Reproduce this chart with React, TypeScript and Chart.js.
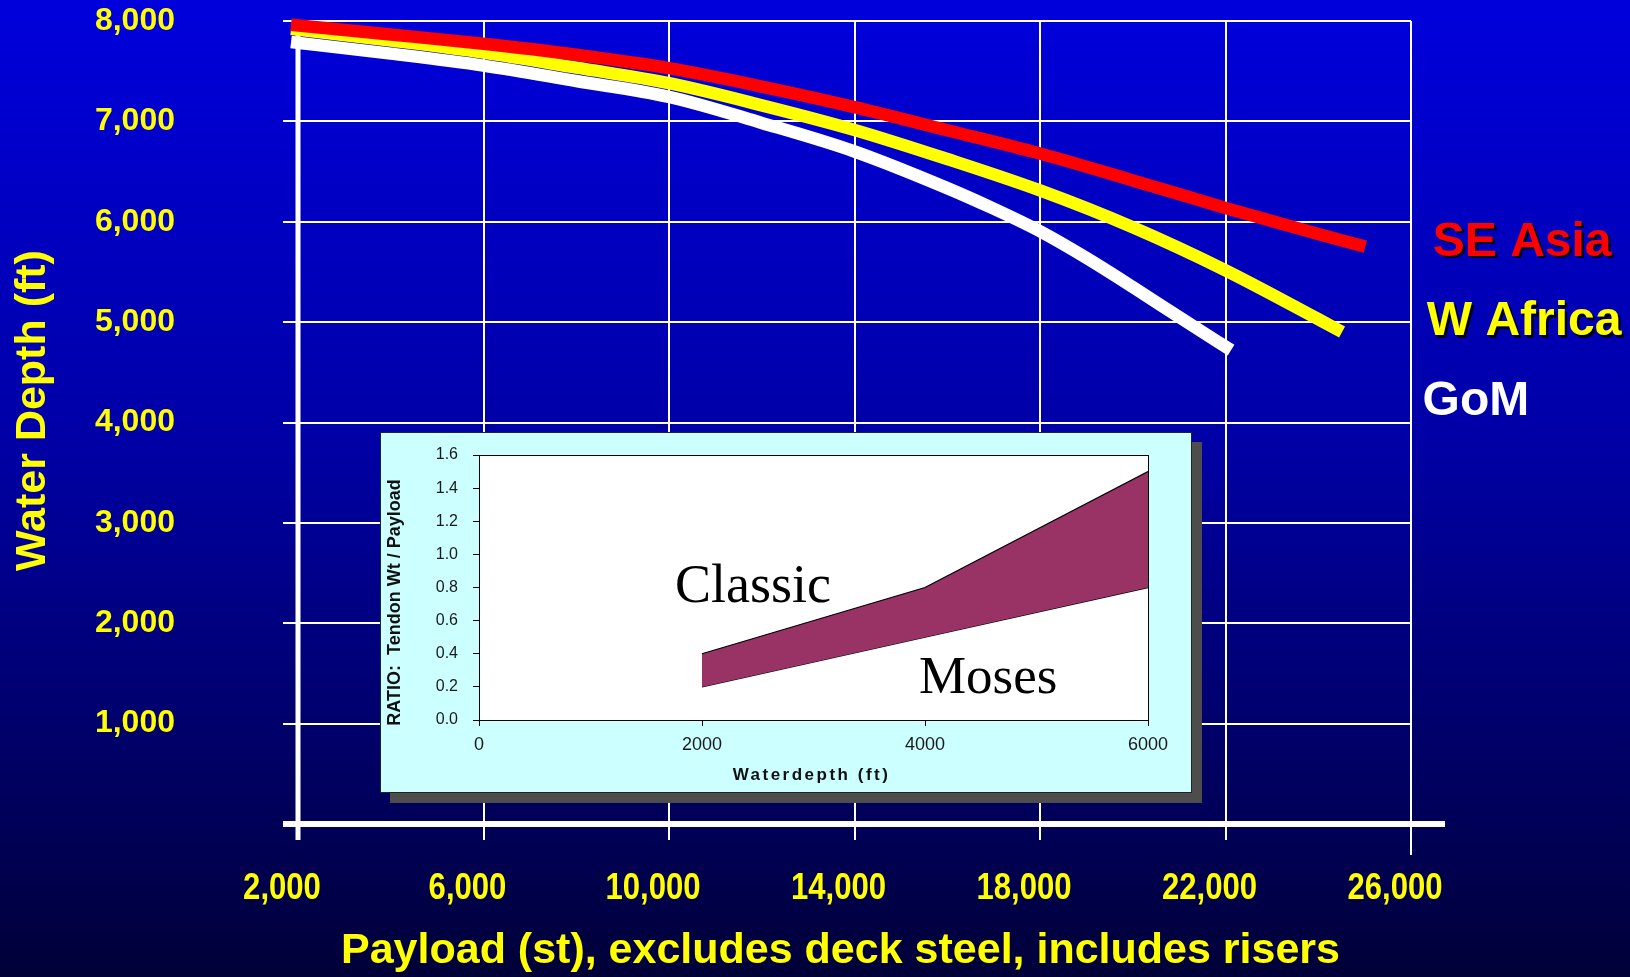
import React, { useEffect, useRef } from "react";
import { Chart, registerables } from "chart.js";

Chart.register(...registerables);

// ---------------- main chart data ----------------
const payloadTicks = [2000, 6000, 10000, 14000, 18000, 22000, 26000];
const depthTicks = [0, 1000, 2000, 3000, 4000, 5000, 6000, 7000, 8000];
const xAxisTitle = "Payload (st), excludes deck steel, includes risers";
const yAxisTitle = "Water Depth (ft)";

const regionNames = ["SE Asia", "W Africa", "GoM"];

const seAsiaPayload = [1850, 4000, 6000, 8000, 10000, 12000, 14000, 16000, 18000, 20000, 22000, 24000, 25015];
const seAsiaDepth = [7963, 7866, 7773, 7664, 7530, 7347, 7142, 6912, 6680, 6412, 6138, 5878, 5752];

const wAfricaPayload = [1850, 4000, 6000, 8000, 10000, 12000, 14000, 16000, 18000, 20000, 22000, 24000, 24514];
const wAfricaDepth = [7922, 7805, 7685, 7535, 7380, 7160, 6915, 6625, 6312, 5945, 5516, 5030, 4902];

const gomPayload = [1850, 4000, 6000, 8000, 10000, 12000, 14000, 16000, 17000, 18000, 19000, 20000, 21000, 22120];
const gomDepth = [7790, 7675, 7556, 7402, 7244, 6985, 6700, 6335, 6130, 5905, 5640, 5350, 5050, 4721];

// ---------------- inset chart data ----------------
const insetDepthTicks = [0, 2000, 4000, 6000];
const insetRatioTicks = [0, 0.2, 0.4, 0.6, 0.8, 1.0, 1.2, 1.4, 1.6];
const bandDepth = [2000, 4000, 6000];
const classicRatio = [0.4, 0.8, 1.5];
const mosesRatio = [0.2, 0.5, 0.8];

// ---------------- styles ----------------
const SANS = '"Liberation Sans", Arial, Helvetica, sans-serif';
const SERIF = '"Liberation Serif", "Times New Roman", Times, serif';
const YELLOW = "#ffff00";
const regionColors = ["#ff0000", "#ffff00", "#ffffff"];

const fmt = (v: number) => Number(v).toLocaleString("en-US");
const pts = (xs: number[], ys: number[]) => xs.map((x, i) => ({ x, y: ys[i] }));

const fixBox = (w: number | null, h: number | null) => (s: any) => {
  if (w !== null) s.width = w;
  if (h !== null) s.height = h;
  s.paddingTop = 0;
  s.paddingBottom = 0;
  s.paddingLeft = 0;
  s.paddingRight = 0;
};

const mainDecor = {
  id: "mainDecor",
  beforeDraw(chart: any) {
    const { ctx, width, height } = chart;
    const g = ctx.createLinearGradient(0, 0, 0, height);
    g.addColorStop(0, "#0000dc");
    g.addColorStop(0.45, "#0000a6");
    g.addColorStop(1, "#000038");
    ctx.save();
    ctx.fillStyle = g;
    ctx.fillRect(0, 0, width, height);
    ctx.restore();
  },
  beforeDatasetsDraw(chart: any) {
    const { ctx, chartArea } = chart;
    const ys = chart.scales.y;
    ctx.save();
    ctx.strokeStyle = "#ffffff";
    ctx.lineWidth = 5;
    ctx.beginPath();
    ctx.moveTo(chartArea.left, ys.getPixelForValue(8000));
    ctx.lineTo(chartArea.left, chartArea.bottom + 16);
    ctx.stroke();
    ctx.lineWidth = 6;
    ctx.beginPath();
    ctx.moveTo(chartArea.left - 15, chartArea.bottom);
    ctx.lineTo(chartArea.right + 34, chartArea.bottom);
    ctx.stroke();
    ctx.lineWidth = 2;
    ctx.beginPath();
    ctx.moveTo(chartArea.right, chartArea.bottom);
    ctx.lineTo(chartArea.right, chartArea.bottom + 31);
    ctx.stroke();
    ctx.restore();
  },
  afterDraw(chart: any) {
    const { ctx, chartArea } = chart;
    const xs = chart.scales.x;
    const ys = chart.scales.y;
    ctx.save();
    ctx.fillStyle = YELLOW;
    ctx.textAlign = "center";
    ctx.textBaseline = "middle";
    // condensed x tick labels (Arial Narrow look)
    ctx.font = `bold 37px ${SANS}`;
    xs.ticks.forEach((t: any) => {
      const px = xs.getPixelForValue(t.value) - 16;
      ctx.save();
      ctx.translate(px, chartArea.bottom + 65);
      ctx.scale(0.84, 1);
      ctx.fillText(fmt(t.value), 0, 0);
      ctx.restore();
    });
    // axis titles
    ctx.font = `bold 43px ${SANS}`;
    ctx.fillText(xAxisTitle, (chartArea.left + chartArea.right) / 2 - 14, chart.height - 26);
    ctx.save();
    ctx.translate(33, (chartArea.top + chartArea.bottom) / 2 - 12);
    ctx.rotate(-Math.PI / 2);
    ctx.fillText(yAxisTitle, 0, 0);
    ctx.restore();
    // region labels
    const anchorsX = [26470, 26340, 26250];
    const anchorsY = [5792, 5002, 4205];
    ctx.font = `bold 48px ${SANS}`;
    ctx.textAlign = "left";
    regionNames.forEach((name, i) => {
      const px = xs.getPixelForValue(anchorsX[i]);
      const py = ys.getPixelForValue(anchorsY[i]);
      if (i < 2) {
        ctx.fillStyle = "#000022";
        ctx.fillText(name, px + 2.5, py + 2.5);
      }
      ctx.fillStyle = regionColors[i];
      ctx.fillText(name, px, py);
    });
    ctx.restore();
  },
};

const insetDecor = {
  id: "insetDecor",
  beforeDraw(chart: any) {
    const { ctx, chartArea } = chart;
    ctx.save();
    ctx.fillStyle = "#ffffff";
    ctx.fillRect(chartArea.left, chartArea.top, chartArea.right - chartArea.left, chartArea.bottom - chartArea.top);
    ctx.restore();
  },
  afterDatasetsDraw(chart: any) {
    const { ctx } = chart;
    const xs = chart.scales.x;
    const ys = chart.scales.y;
    ctx.save();
    ctx.fillStyle = "#000000";
    ctx.textAlign = "left";
    ctx.textBaseline = "alphabetic";
    ctx.font = `54px ${SERIF}`;
    ctx.fillText("Classic", xs.getPixelForValue(1758), ys.getPixelForValue(0.712));
    ctx.font = `53px ${SERIF}`;
    ctx.fillText("Moses", xs.getPixelForValue(3946), ys.getPixelForValue(0.163));
    ctx.restore();
  },
  afterDraw(chart: any) {
    const { ctx, chartArea, width, height } = chart;
    ctx.save();
    ctx.strokeStyle = "#000000";
    ctx.lineWidth = 1;
    ctx.strokeRect(
      Math.round(chartArea.left) + 0.5,
      Math.round(chartArea.top) + 0.5,
      Math.round(chartArea.right - chartArea.left),
      Math.round(chartArea.bottom - chartArea.top)
    );
    ctx.strokeStyle = "#222222";
    ctx.strokeRect(0.5, 0.5, width - 1, height - 1);
    ctx.fillStyle = "#111111";
    ctx.font = `bold 17px ${SANS}`;
    ctx.textAlign = "center";
    ctx.textBaseline = "middle";
    try {
      (ctx as any).letterSpacing = "2.5px";
    } catch (e) {}
    ctx.fillText("Waterdepth (ft)", (chartArea.left + chartArea.right) / 2 - 2, 343);
    try {
      (ctx as any).letterSpacing = "0px";
    } catch (e) {}
    ctx.font = `bold 18px ${SANS}`;
    ctx.translate(15, (chartArea.top + chartArea.bottom) / 2 + 15);
    ctx.rotate(-Math.PI / 2);
    ctx.fillText("RATIO:  Tendon Wt / Payload", 0, 0);
    ctx.restore();
  },
};

export default function App() {
  const mainRef = useRef<HTMLCanvasElement>(null);
  const insetRef = useRef<HTMLCanvasElement>(null);

  useEffect(() => {
    document.body.style.margin = "0";
    const lineDs = (i: number, xs: number[], ys: number[]) => ({
      label: regionNames[i],
      data: pts(xs, ys),
      borderColor: regionColors[i],
      borderWidth: 12.5,
      pointRadius: 0,
      cubicInterpolationMode: "monotone",
      clip: false,
      fill: false,
    });
    const main = new Chart(mainRef.current as HTMLCanvasElement, {
      type: "line",
      data: {
        datasets: [
          lineDs(0, seAsiaPayload, seAsiaDepth),
          lineDs(1, wAfricaPayload, wAfricaDepth),
          lineDs(2, gomPayload, gomDepth),
        ] as any,
      },
      options: {
        responsive: false,
        animation: false,
        devicePixelRatio: 1,
        layout: { autoPadding: false, padding: { top: 21, right: 219, left: 0, bottom: 0 } },
        plugins: { legend: { display: false }, tooltip: { enabled: false } },
        scales: {
          x: {
            type: "linear",
            min: 2000,
            max: 26000,
            afterBuildTicks: (s: any) => {
              s.ticks = payloadTicks.map((v) => ({ value: v }));
            },
            afterFit: fixBox(null, 153),
            grid: { color: "#ffffff", lineWidth: 2, tickLength: 16, tickColor: "#ffffff" },
            border: { display: false },
            ticks: { display: false },
            title: { display: false, text: xAxisTitle },
          },
          y: {
            type: "linear",
            min: 0,
            max: 8000,
            afterBuildTicks: (s: any) => {
              s.ticks = depthTicks.map((v) => ({ value: v }));
            },
            afterFit: fixBox(298, null),
            grid: { color: "#ffffff", lineWidth: 2, tickLength: 15, tickColor: "#ffffff" },
            border: { display: false },
            ticks: {
              color: YELLOW,
              font: { family: SANS, size: 32, weight: "bold" },
              padding: 108,
              callback: (v: any) => (Number(v) === 0 ? "" : fmt(v)),
            },
            title: { display: false, text: yAxisTitle },
          },
        },
      } as any,
      plugins: [mainDecor as any],
    });

    const inset = new Chart(insetRef.current as HTMLCanvasElement, {
      type: "line",
      data: {
        datasets: [
          {
            label: "Classic",
            data: pts(bandDepth, classicRatio),
            borderColor: "#000000",
            borderWidth: 1.3,
            backgroundColor: "#993366",
            fill: "+1",
            pointRadius: 0,
            tension: 0,
          },
          {
            label: "Moses",
            data: pts(bandDepth, mosesRatio),
            borderColor: "#000000",
            borderWidth: 1.3,
            fill: false,
            pointRadius: 0,
            tension: 0,
          },
        ] as any,
      },
      options: {
        responsive: false,
        animation: false,
        devicePixelRatio: 1,
        layout: { autoPadding: false, padding: { top: 23, right: 44, left: 0, bottom: 0 } },
        plugins: { legend: { display: false }, tooltip: { enabled: false } },
        scales: {
          x: {
            type: "linear",
            min: 0,
            max: 6000,
            afterBuildTicks: (s: any) => {
              s.ticks = insetDepthTicks.map((v) => ({ value: v }));
            },
            afterFit: fixBox(null, 73),
            grid: { drawOnChartArea: false, tickLength: 6, tickColor: "#000000" },
            border: { display: true, color: "#000000", width: 1 },
            ticks: {
              color: "#1a1a1a",
              font: { family: SANS, size: 18 },
              padding: 8,
              maxRotation: 0,
              autoSkip: false,
              callback: (v: any) => String(v),
            },
          },
          y: {
            type: "linear",
            min: 0,
            max: 1.6,
            afterBuildTicks: (s: any) => {
              s.ticks = insetRatioTicks.map((v) => ({ value: v }));
            },
            afterFit: fixBox(99, null),
            grid: { drawOnChartArea: false, tickLength: 6, tickColor: "#000000" },
            border: { display: true, color: "#000000", width: 1 },
            ticks: {
              color: "#1a1a1a",
              font: { family: SANS, size: 16 },
              padding: 15,
              autoSkip: false,
              callback: (v: any) => Number(v).toFixed(1),
            },
          },
        },
      } as any,
      plugins: [insetDecor as any],
    });

    return () => {
      main.destroy();
      inset.destroy();
    };
  }, []);

  return (
    <div style={{ position: "relative", width: 1630, height: 977, overflow: "hidden" }}>
      <canvas
        ref={mainRef}
        width={1630}
        height={977}
        style={{ position: "absolute", left: 0, top: 0, width: 1630, height: 977 }}
      />
      <div
        style={{
          position: "absolute",
          left: 380,
          top: 432,
          width: 812,
          height: 361,
          background: "#ccffff",
          boxShadow: "10px 10px 0 #4d4d4d",
        }}
      />
      <canvas
        ref={insetRef}
        width={812}
        height={361}
        style={{ position: "absolute", left: 380, top: 432, width: 812, height: 361 }}
      />
    </div>
  );
}
